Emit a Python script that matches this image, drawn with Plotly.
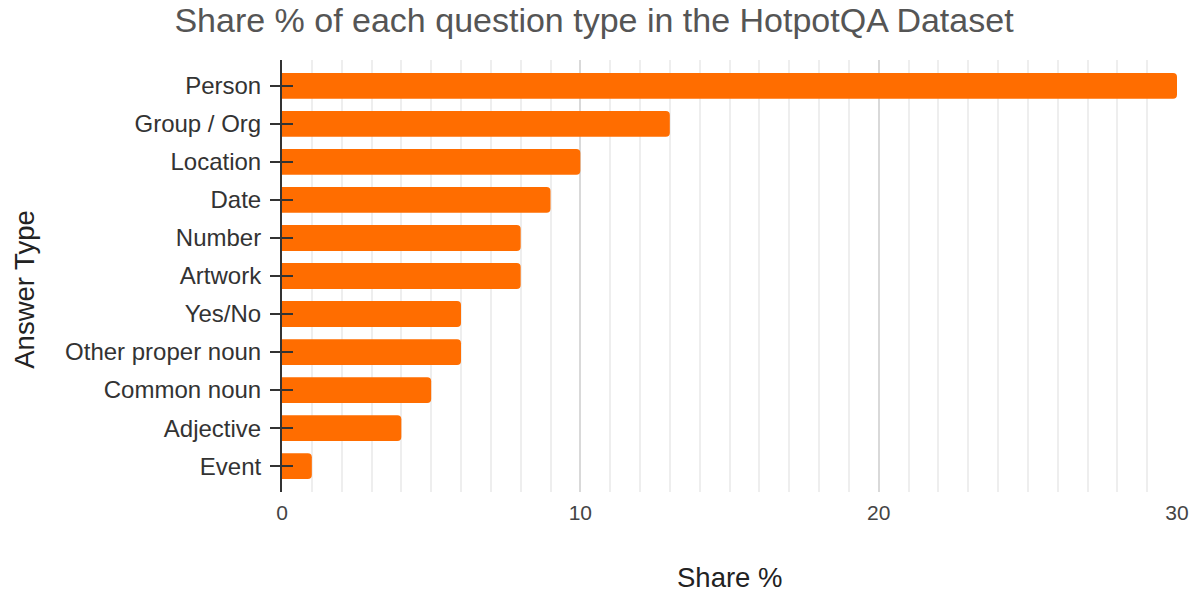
import plotly.graph_objects as go

# Answer types in HotpotQA and their share of questions (%)
answer_types = [
    "Person", "Group / Org", "Location", "Date", "Number", "Artwork",
    "Yes/No", "Other proper noun", "Common noun", "Adjective", "Event",
]
share_pct = [30, 13, 10, 9, 8, 8, 6, 6, 5, 4, 1]
x_ticks = [0, 10, 20, 30]

FONT = "Liberation Sans, Arial, sans-serif"
BAR_COLOR = "#FF6D00"
y_range = [len(answer_types) - 1 + 0.68, -0.68]

fig = go.Figure()
fig.add_trace(go.Bar(
    x=share_pct, y=answer_types, orientation="h",
    marker=dict(color=BAR_COLOR, line=dict(width=0)),
    width=0.68, hovertemplate="%{y}: %{x}%<extra></extra>",
))
# invisible companion trace carrying the inner half of the tick marks
fig.add_trace(go.Scatter(
    x=[0] * len(answer_types), y=answer_types, yaxis="y2",
    mode="markers", marker=dict(opacity=0), hoverinfo="skip", showlegend=False,
))

fig.update_layout(
    width=1201, height=592,
    margin=dict(l=282, r=18, t=60, b=100),
    paper_bgcolor="white", plot_bgcolor="white",
    showlegend=False,
    barcornerradius=4,
    font=dict(family=FONT, color="#333"),
    title=dict(
        text="Share % of each question type in the HotpotQA Dataset",
        x=594 / 1201, xanchor="center", y=1 - 20 / 592, yanchor="middle",
        font=dict(size=34, color="#555", family=FONT),
    ),
    xaxis=dict(
        range=[0, 30], tickvals=x_ticks, ticks="",
        showgrid=True, gridcolor="#d9d9d9", gridwidth=2,
        minor=dict(dtick=1, showgrid=True, gridcolor="#eeeeee", gridwidth=2),
        zeroline=False, showline=False,
        tickfont=dict(size=21, color="#444"),
        ticklabelstandoff=6,
    ),
    yaxis=dict(
        type="category", categoryorder="array", categoryarray=answer_types,
        range=y_range,
        showline=True, linecolor="#333", linewidth=2,
        ticks="outside", ticklen=10, tickwidth=2, tickcolor="#333",
        tickfont=dict(size=24, color="#333"),
        ticklabelstandoff=4,
        showgrid=False, zeroline=False,
    ),
    yaxis2=dict(
        type="category", categoryorder="array", categoryarray=answer_types,
        overlaying="y", side="left", range=y_range,
        ticks="inside", ticklen=11, tickwidth=2, tickcolor="#333",
        showticklabels=False, showgrid=False, showline=False, zeroline=False,
    ),
    annotations=[
        dict(text="Share %", xref="paper", yref="paper", x=0.5, y=(492 - 577) / 432,
             xanchor="center", yanchor="middle", showarrow=False,
             font=dict(size=27.5, color="#222", family=FONT)),
        dict(text="Answer Type", xref="paper", yref="paper", x=(22 - 282) / 901,
             y=(492 - 290) / 432, xanchor="center", yanchor="middle", textangle=-90,
             showarrow=False, font=dict(size=27.5, color="#222", family=FONT)),
    ],
)

fig.write_html("out.html")
